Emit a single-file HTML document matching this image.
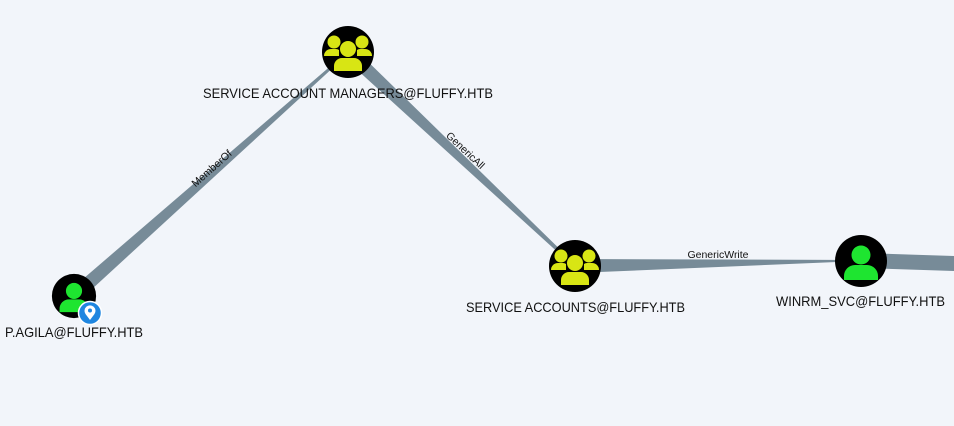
<!DOCTYPE html>
<html><head><meta charset="utf-8"><style>
html,body{margin:0;padding:0;background:#f2f5fa;}
svg{display:block}
text{font-family:"Liberation Sans",sans-serif;fill:#111;}
</style></head><body>
<svg width="954" height="426" viewBox="0 0 954 426" xmlns="http://www.w3.org/2000/svg">
<defs>
<g id="grp">
<circle r="26" fill="#000"/>
<circle cx="0" cy="-3" r="8" fill="#d8e514"/>
<circle cx="-14" cy="-10" r="6.5" fill="#d8e514"/>
<circle cx="14" cy="-10" r="6.5" fill="#d8e514"/>
<path d="M-24,4 a7,7 0 0 1 7,-7 h5 a6,6 0 0 1 3,1 v6z" fill="#d8e514"/>
<path d="M24,4 a7,7 0 0 0 -7,-7 h-5 a6,6 0 0 0 -3,1 v6z" fill="#d8e514"/>
<path d="M-14,19 v-5 a8,8 0 0 1 8,-8 h12 a8,8 0 0 1 8,8 v5z" fill="#d8e514"/>
</g>
<g id="usr">
<circle r="26" fill="#000"/>
<circle cx="0" cy="-6" r="9.5" fill="#1ee530"/>
<path d="M-17,19 v-4 a11,11 0 0 1 11,-11 h12 a11,11 0 0 1 11,11 v4z" fill="#1ee530"/>
</g>
</defs>
<g fill="#778b98">
<polygon points="79,301 69,291 348,51 349,53"/>
<polygon points="343,57 353,47 576,265 574,267"/>
<polygon points="575,259 575,273 861,261 861,260"/>
<polygon points="861,253 954,256 954,271 861,268"/>
</g>
<g font-size="10.5">
<text transform="translate(214,171) rotate(-41.7)" text-anchor="middle">MemberOf</text>
<text transform="translate(463,153) rotate(43.3)" text-anchor="middle">GenericAll</text>
<text x="718" y="258" text-anchor="middle">GenericWrite</text>
</g>
<use href="#grp" x="348" y="52"/>
<use href="#grp" x="575" y="266"/>
<use href="#usr" x="861" y="261"/>
<g transform="translate(74,296) scale(0.85)"><use href="#usr"/></g>
<circle cx="90" cy="313" r="11.5" fill="#1f86e0" stroke="#fff" stroke-width="1.5"/>
<path d="M90,320 l-4.5,-6 a5.5,5.5 0 1 1 9,0z" fill="#fff"/>
<circle cx="90" cy="310.5" r="2" fill="#1f86e0"/>
<g font-size="14">
<text x="203" y="98" textLength="290" lengthAdjust="spacingAndGlyphs">SERVICE ACCOUNT MANAGERS@FLUFFY.HTB</text>
<text x="466" y="312" textLength="219" lengthAdjust="spacingAndGlyphs">SERVICE ACCOUNTS@FLUFFY.HTB</text>
<text x="776" y="306" textLength="169" lengthAdjust="spacingAndGlyphs">WINRM_SVC@FLUFFY.HTB</text>
<text x="5" y="337" textLength="138" lengthAdjust="spacingAndGlyphs">P.AGILA@FLUFFY.HTB</text>
</g>
</svg>
</body></html>
